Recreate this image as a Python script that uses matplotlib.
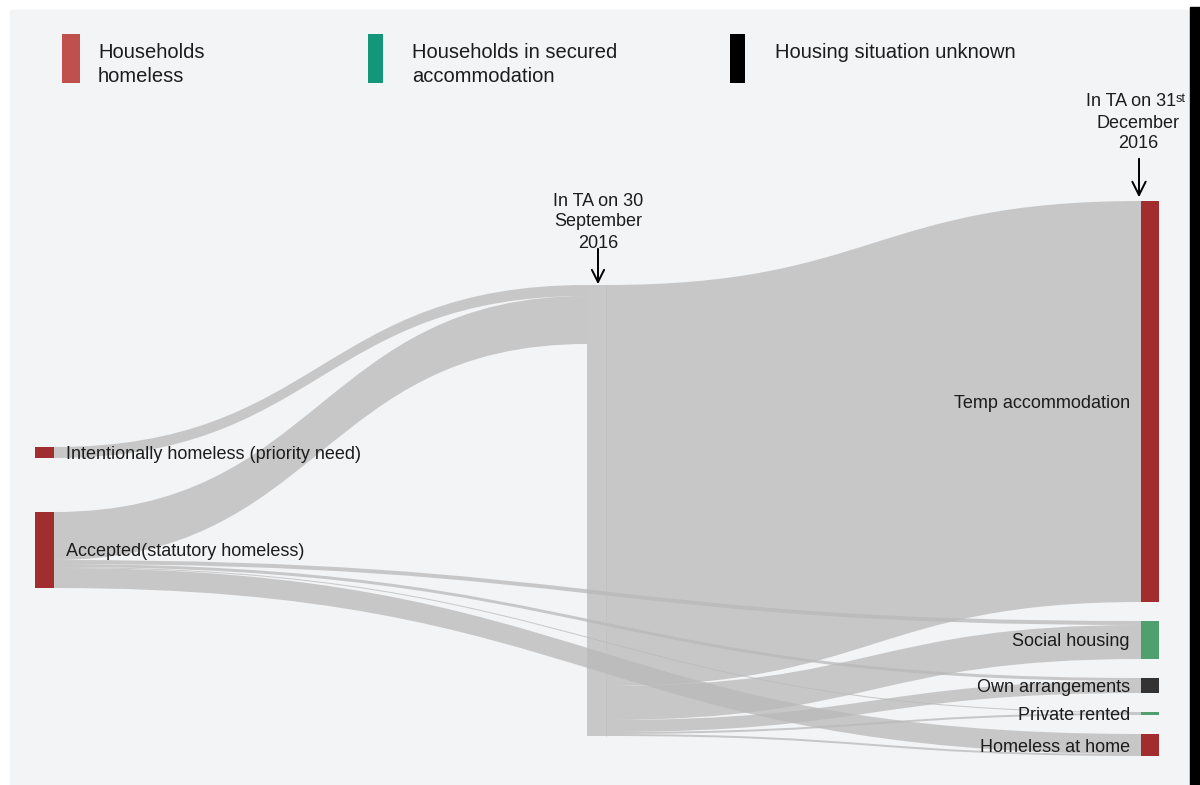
"""Sankey: households in temporary accommodation, Sep -> Dec 2016."""
import matplotlib.pyplot as plt
from matplotlib.path import Path
from matplotlib.patches import PathPatch, Rectangle

plt.rcParams["font.family"] = ["Liberation Sans", "DejaVu Sans"]

RED, GREEN, DARK = "#a12d2e", "#50a06f", "#333333"
BG = "#f3f4f6"
INK = "#1c1c1c"

# ---- data (households) ---------------------------------------------------- #
left_nodes = ["Intentionally homeless (priority need)", "Accepted(statutory homeless)"]
mid_nodes = ["In TA on 30 September 2016"]
right_nodes = ["Temp accommodation", "Social housing", "Own arrangements",
               "Private rented", "Homeless at home"]
right_colors = [RED, GREEN, DARK, GREEN, RED]

flow_src = ["Intentionally homeless (priority need)", "Accepted(statutory homeless)",
            "Accepted(statutory homeless)", "Accepted(statutory homeless)",
            "Accepted(statutory homeless)", "Accepted(statutory homeless)",
            "In TA on 30 September 2016", "In TA on 30 September 2016",
            "In TA on 30 September 2016", "In TA on 30 September 2016",
            "In TA on 30 September 2016"]
flow_tgt = ["In TA on 30 September 2016", "In TA on 30 September 2016",
            "Social housing", "Own arrangements", "Private rented", "Homeless at home",
            "Temp accommodation", "Social housing", "Own arrangements",
            "Private rented", "Homeless at home"]
flow_val = [275, 1200, 100, 75, 25, 500, 10025, 850, 300, 50, 50]

legend_labels = ["Households\nhomeless", "Households in secured\naccommodation",
                 "Housing situation unknown"]
legend_colors = ["#c0504d", "#13967a", "#000000"]

# ---- layout (canvas pixels) ---------------------------------------------- #
PX = 1 / 25.0                       # pixels per household
NODE_W = 19
columns = [(left_nodes, 35, 447, 54), (mid_nodes, 587, 285, 19), (right_nodes, 1141, 201, 19)]

order = left_nodes + mid_nodes + right_nodes
inflow = {n: sum(v for t, v in zip(flow_tgt, flow_val) if t == n) for n in order}
outflow = {n: sum(v for s, v in zip(flow_src, flow_val) if s == n) for n in order}
size = {n: max(inflow[n], outflow[n]) * PX for n in order}

pos = {}
for names, x, top, gap in columns:
    y = top
    for n in names:
        pos[n] = (x, y)
        y += size[n] + gap

fig = plt.figure(figsize=(12, 7.85), dpi=100)
ax = fig.add_axes([0, 0, 1, 1])
ax.set_xlim(0, 1200); ax.set_ylim(785, 0); ax.axis("off")

ax.add_patch(Rectangle((10, 10), 1180, 775, color=BG, zorder=0))
ax.add_patch(Rectangle((1190, 7), 10, 778, color="black", zorder=0))

# middle node (grey, under the links)
mx, my = pos[mid_nodes[0]]
ax.add_patch(Rectangle((mx, my), NODE_W, size[mid_nodes[0]], color="#c7c8c7", lw=0, zorder=1))
ax.plot([mx + NODE_W] * 2, [my, my + size[mid_nodes[0]]], color="#dcdddc", lw=0.8, zorder=1)

# links, stacked in node order at both ends
out_off = {n: 0.0 for n in order}
in_off = {n: 0.0 for n in order}
for s, t, v in zip(flow_src, flow_tgt, flow_val):
    h = v * PX
    x0 = pos[s][0] + NODE_W
    y0 = pos[s][1] + out_off[s]
    x1 = pos[t][0]
    y1 = pos[t][1] + in_off[t]
    out_off[s] += h; in_off[t] += h
    xm = (x0 + x1) / 2
    verts = [(x0, y0), (xm, y0), (xm, y1), (x1, y1),
             (x1, y1 + h), (xm, y1 + h), (xm, y0 + h), (x0, y0 + h), (x0, y0)]
    codes = [Path.MOVETO] + [Path.CURVE4] * 3 + [Path.LINETO] + [Path.CURVE4] * 3 + [Path.CLOSEPOLY]
    ax.add_patch(PathPatch(Path(verts, codes), fc="#b9b9b9", ec="none", alpha=0.75, zorder=2))

# coloured end nodes + labels
for n in left_nodes:
    x, y = pos[n]
    ax.add_patch(Rectangle((x, y), NODE_W, size[n], color=RED, lw=0, zorder=3))
    ax.text(x + NODE_W + 12, y + size[n] / 2 + 2, n, ha="left", va="center", fontsize=13, color=INK, zorder=4)
for n, c in zip(right_nodes, right_colors):
    x, y = pos[n]
    ax.add_patch(Rectangle((x, y), NODE_W - 1, size[n], color=c, lw=0, zorder=3))
    ax.text(x - 11, y + size[n] / 2 + 2, n, ha="right", va="center", fontsize=13, color=INK, zorder=4)

# annotations
for line, yy in zip(["In TA on 30", "September", "2016"], [201, 222, 243]):
    ax.text(598, yy, line, ha="center", va="center", fontsize=13, color=INK, zorder=4)
ax.annotate("", xy=(598, 287), xytext=(598, 246),
            arrowprops=dict(arrowstyle="->", color="black", lw=1.4, mutation_scale=22), zorder=5)
t31 = ax.text(1131, 102, "In TA on 31", ha="center", va="center", fontsize=13, color=INK)
ax.annotate("st", xy=(1, 1), xycoords=t31, ha="left", va="top", fontsize=9, color=INK)
ax.text(1138, 123, "December", ha="center", va="center", fontsize=13, color=INK)
ax.text(1138, 144, "2016", ha="center", va="center", fontsize=13, color=INK)
ax.annotate("", xy=(1139, 200), xytext=(1139, 156),
            arrowprops=dict(arrowstyle="->", color="black", lw=1.4, mutation_scale=24), zorder=5)

# legend
for lab, c, x, w, tx in zip(legend_labels, legend_colors, [62, 368, 730], [18, 15, 15], [98, 412, 775]):
    ax.add_patch(Rectangle((x, 34), w, 49, color=c, lw=0, zorder=3))
    for k, line in enumerate(lab.split("\n")):
        ax.text(tx, 52 + 24 * k, line, ha="left", va="center", fontsize=14.5, color=INK)

fig.savefig("out.png", dpi=100, facecolor="white")
